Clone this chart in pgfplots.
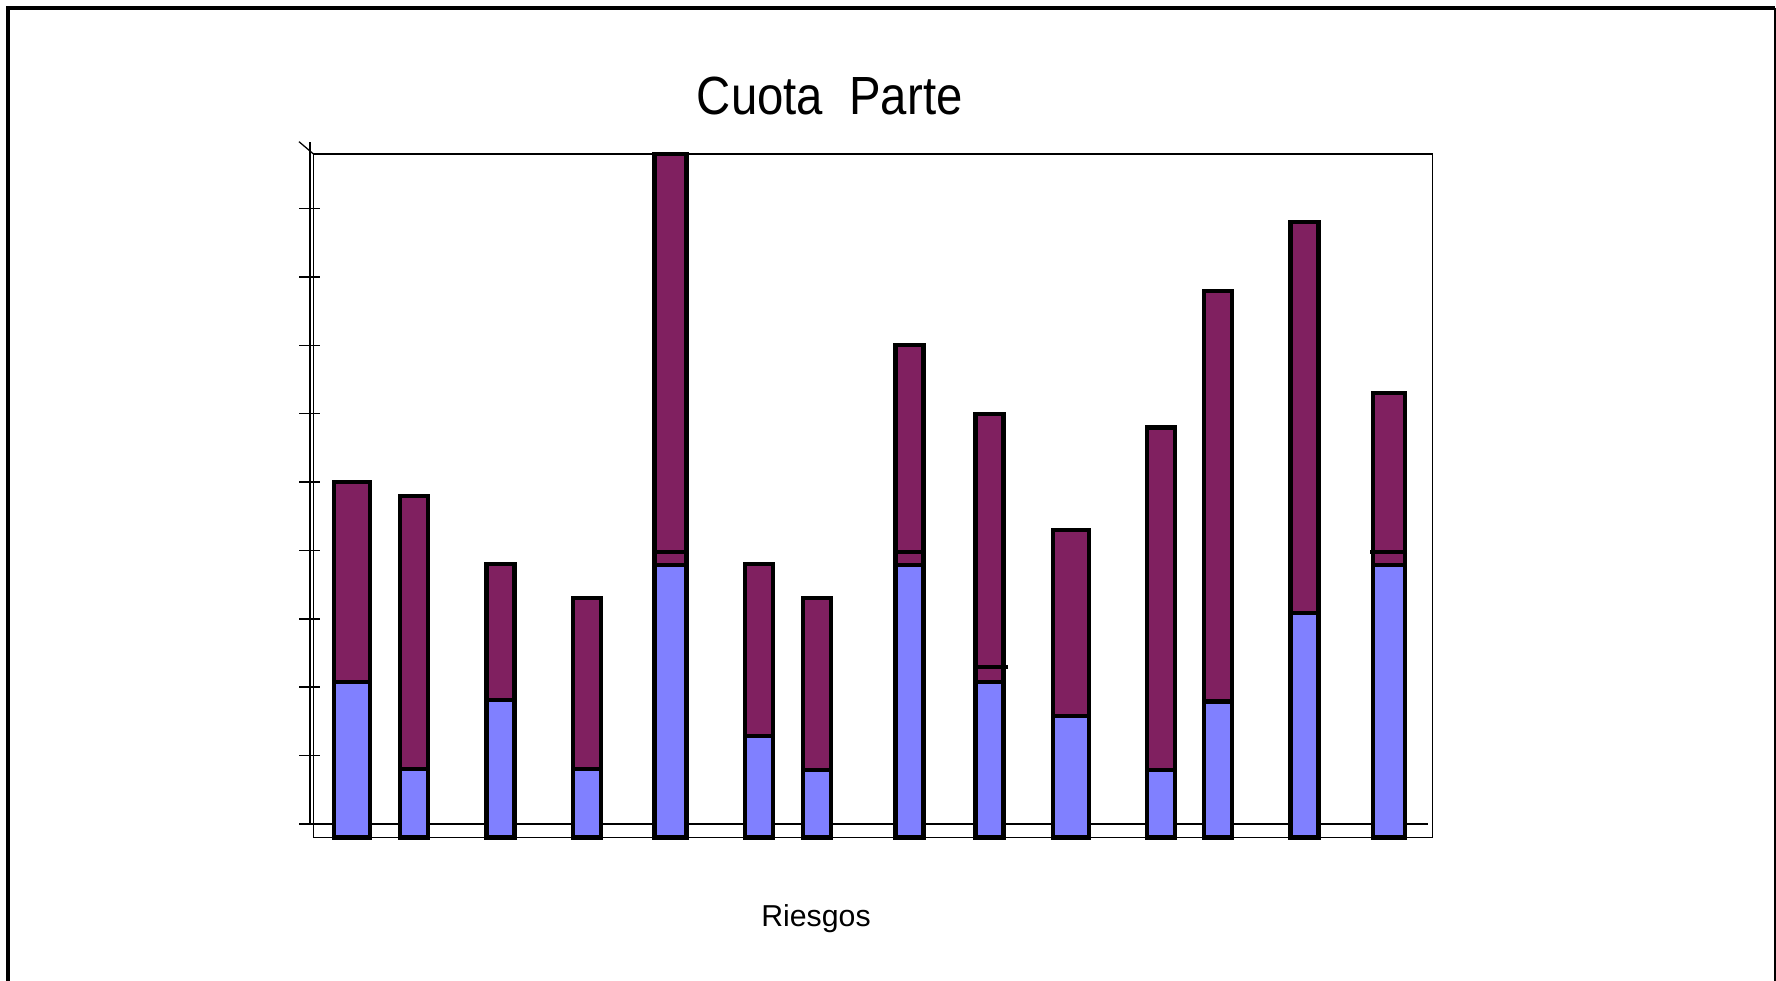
\documentclass[border=0pt]{standalone}
\usepackage{fontspec}
\setmainfont{Liberation Sans}
\usepackage{pgfplots}
\pgfplotsset{compat=1.18}
\definecolor{cpblue}{HTML}{8080FF}
\definecolor{cppurple}{HTML}{802060}
\begin{document}
\begin{tikzpicture}
\useasboundingbox (0pt,0pt) rectangle (710.4pt,-392.4pt);
\clip (0pt,0pt) rectangle (710.4pt,-392.4pt);
% outer border
\draw[line width=1.6pt] (3.2pt,-400pt) -- (3.2pt,-3.2pt) -- (709.8pt,-3.2pt);
\draw[line width=0.8pt] (709.8pt,-3.2pt) -- (709.8pt,-400pt);
% title and axis label
\node[anchor=base, inner sep=0pt, font=\fontsize{21.5pt}{24pt}\selectfont] at (331.9pt,-45.8pt) {\scalebox{0.88}[1]{Cuota\ \ Parte}};
\node[anchor=base, inner sep=0pt, font=\fontsize{12.1pt}{14pt}\selectfont] at (326.4pt,-370.7pt) {Riesgos};
\begin{axis}[
  at={(125.4pt,-335pt)}, anchor=south west,
  scale only axis, width=447.6pt, height=273.4pt,
  xmin=313.5, xmax=1432.5, ymin=0, ymax=10,
  xtick=\empty, ytick=\empty,
  axis line style={line width=0.5pt},
  clip=false,
  ybar, bar shift=0pt,
]
% front axis lines (pseudo-3D)
\draw[line width=0.6pt] (axis cs:310,0.2) -- (axis cs:1428,0.2);
\draw[line width=0.6pt] (axis cs:310,0.2) -- (axis cs:310,10.18);
\draw[line width=0.5pt] (axis cs:299,10.18) -- (axis cs:313.5,10);
\pgfplotsinvokeforeach{0,...,9}{
  \draw[line width=0.6pt] (axis cs:299,{0.2+#1}) -- (axis cs:320,{0.2+#1});
}
% totals (purple), group widths
\addplot[fill=cppurple, draw=black, line width=1.7pt, bar width=36] coordinates {
  (352,5.2) (1071,4.5)
};
\addplot[fill=cppurple, draw=black, line width=1.7pt, bar width=32] coordinates {
  (670.5,10.0) (1388.7,6.5)
};
\addplot[fill=cppurple, draw=black, line width=1.7pt, bar width=28] coordinates {
  (414,5.0) (500.5,4.0) (587,3.5) (759,4.0) (816.7,3.5) (909.5,7.2)
  (989.5,6.2) (1161,6.0) (1218,8.0) (1304.5,9.0)
};
% first part (blue)
\addplot[fill=cpblue, draw=black, line width=1.7pt, bar width=36] coordinates {
  (352,2.28) (1071,1.78)
};
\addplot[fill=cpblue, draw=black, line width=1.7pt, bar width=32] coordinates {
  (670.5,3.99) (1388.7,3.99)
};
\addplot[fill=cpblue, draw=black, line width=1.7pt, bar width=28] coordinates {
  (414,1.0) (500.5,2.01) (587,1.0) (759,1.49) (816.7,0.99) (909.5,3.99)
  (989.5,2.28) (1161,0.99) (1218,1.99) (1304.5,3.28)
};
% extra separator lines
\addplot[only marks, mark=-, mark size=7.4pt, mark options={line width=1.7pt, draw=black}] coordinates {
  (670.5,4.18) (1388.7,4.18)
};
\addplot[only marks, mark=-, mark size=6.4pt, mark options={line width=1.7pt, draw=black}] coordinates {
  (909.5,4.18)
};
\addplot[only marks, mark=-, mark size=7pt, mark options={line width=1.7pt, draw=black}] coordinates {
  (990.5,2.49)
};
\end{axis}
\end{tikzpicture}
\end{document}
